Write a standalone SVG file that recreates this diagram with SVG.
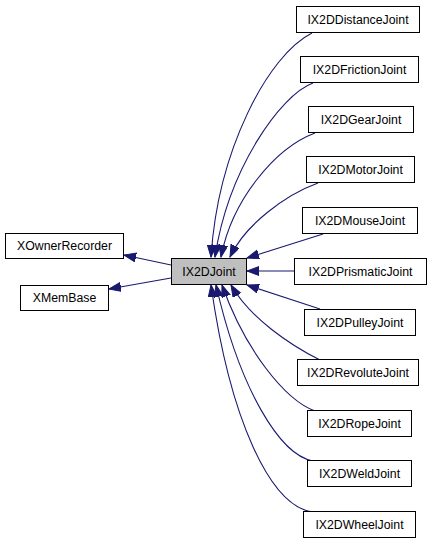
<svg xmlns="http://www.w3.org/2000/svg" width="431" height="544" viewBox="0 0 431 544">
<style>
.box rect{fill:#ffffff;stroke:#000000;stroke-width:1}
#IX2DJoint rect{fill:#bfbfbf}
text{font-family:"Liberation Sans",Arial,sans-serif;font-size:12.3px;fill:#000000;text-anchor:middle}
.edge{fill:none;stroke:#191970;stroke-width:1.1;marker-end:url(#arr)}
</style>
<defs>
<marker id="arr" markerUnits="userSpaceOnUse" markerWidth="13" markerHeight="10" refX="12" refY="4.5" orient="auto">
<path d="M0,0 L12,4.5 L0,9 z" fill="#191970" stroke="#191970" stroke-width="1"/>
</marker>
</defs>
<g id="edges">
<path class="edge" d="M171,265 L124,255"/>
<path class="edge" d="M171,278 L109,289"/>
<path class="edge" d="M312,33 C268,55 218,150 211,257"/>
<path class="edge" d="M313,83 C280,95 228,170 215,257"/>
<path class="edge" d="M315,133 C275,148 232,200 221,257"/>
<path class="edge" d="M318,183 C285,195 245,225 230,257"/>
<path class="edge" d="M323,234 L247,258"/>
<path class="edge" d="M294,271 L247,271"/>
<path class="edge" d="M320,309 L247,285"/>
<path class="edge" d="M320,360 C290,345 250,318 231,285"/>
<path class="edge" d="M315,411 C285,400 245,350 222,285"/>
<path class="edge" d="M313,461 C280,455 240,390 216,285"/>
<path class="edge" d="M312,512 C270,505 230,420 211,285"/>
</g>
<g id="XOwnerRecorder" class="box"><rect x="5.5" y="233.5" width="118" height="25"/><text x="64.5" y="250">XOwnerRecorder</text></g>
<g id="XMemBase" class="box"><rect x="20.5" y="285.5" width="88" height="25"/><text x="64.5" y="302">XMemBase</text></g>
<g id="IX2DJoint" class="box"><rect x="171.5" y="258.5" width="75" height="26"/><text x="209" y="276">IX2DJoint</text></g>
<g id="IX2DDistanceJoint" class="box"><rect x="296.5" y="6.5" width="123" height="26"/><text x="358" y="24">IX2DDistanceJoint</text></g>
<g id="IX2DFrictionJoint" class="box"><rect x="300.5" y="56.5" width="118" height="26"/><text x="359.5" y="74">IX2DFrictionJoint</text></g>
<g id="IX2DGearJoint" class="box"><rect x="308.5" y="106.5" width="105" height="26"/><text x="361" y="124">IX2DGearJoint</text></g>
<g id="IX2DMotorJoint" class="box"><rect x="306.5" y="156.5" width="108" height="26"/><text x="360.5" y="174">IX2DMotorJoint</text></g>
<g id="IX2DMouseJoint" class="box"><rect x="302.5" y="207.5" width="115" height="26"/><text x="360" y="225">IX2DMouseJoint</text></g>
<g id="IX2DPrismaticJoint" class="box"><rect x="294.5" y="258.5" width="132" height="26"/><text x="360.5" y="276">IX2DPrismaticJoint</text></g>
<g id="IX2DPulleyJoint" class="box"><rect x="304.5" y="309.5" width="111" height="26"/><text x="360" y="327">IX2DPulleyJoint</text></g>
<g id="IX2DRevoluteJoint" class="box"><rect x="297.5" y="359.5" width="121" height="26"/><text x="358" y="377">IX2DRevoluteJoint</text></g>
<g id="IX2DRopeJoint" class="box"><rect x="307.5" y="410.5" width="104" height="26"/><text x="359.5" y="428">IX2DRopeJoint</text></g>
<g id="IX2DWeldJoint" class="box"><rect x="307.5" y="460.5" width="104" height="26"/><text x="359.5" y="478">IX2DWeldJoint</text></g>
<g id="IX2DWheelJoint" class="box"><rect x="303.5" y="511.5" width="112" height="26"/><text x="359.5" y="529">IX2DWheelJoint</text></g>
</svg>
